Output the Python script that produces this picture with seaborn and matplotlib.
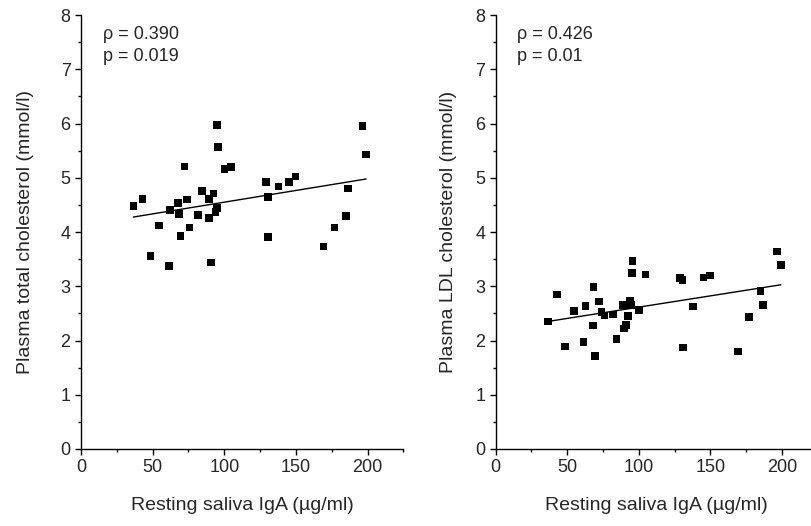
import matplotlib
matplotlib.use("Agg")
import matplotlib.pyplot as plt
import pandas as pd
import seaborn as sns
from matplotlib.ticker import MultipleLocator

# 左图：唾液 IgA 与总胆固醇
iga_total = [36.5, 42.8, 48.4, 54.5, 61.2, 62.3, 67.7, 68.4, 69.3, 72.1, 73.8, 75.6,
             81.7, 84.5, 89.4, 89.4, 90.8, 92.4, 93.8, 94.7, 94.9, 95.4, 100.0, 104.5,
             128.9, 130.3, 130.5, 137.7, 145.0, 149.6, 169.1, 176.8, 184.8, 186.4, 196.4, 199.0]
total_chol = [4.48, 4.61, 3.56, 4.12, 3.37, 4.41, 4.54, 4.33, 3.93, 5.21, 4.60, 4.08,
              4.31, 4.76, 4.61, 4.26, 3.44, 4.71, 4.37, 4.44, 5.97, 5.57, 5.16, 5.20,
              4.92, 4.65, 3.91, 4.84, 4.92, 5.02, 3.73, 4.08, 4.29, 4.80, 5.95, 5.43]

# 右图：唾液 IgA 与 LDL 胆固醇
iga_ldl = [36.8, 43.0, 48.6, 54.9, 61.5, 62.9, 68.4, 68.2, 69.6, 72.1, 74.0, 76.1,
           81.9, 84.5, 89.6, 91.0, 92.6, 89.0, 93.7, 94.6, 95.6, 95.1, 100.2, 104.7,
           128.8, 130.5, 130.7, 137.9, 145.2, 149.6, 169.1, 177.0, 184.9, 186.5, 196.3, 199.1]
ldl_chol = [2.35, 2.85, 1.89, 2.54, 1.97, 2.64, 2.99, 2.28, 1.71, 2.72, 2.53, 2.46,
            2.48, 2.03, 2.22, 2.29, 2.45, 2.65, 2.74, 2.66, 3.47, 3.25, 2.56, 3.22,
            3.15, 3.12, 1.87, 2.63, 3.16, 3.20, 1.80, 2.43, 2.91, 2.66, 3.64, 3.39]

stats_total = ["\u03c1 = 0.390", "p = 0.019"]
stats_ldl = ["\u03c1 = 0.426", "p = 0.01"]

x_label = "Resting saliva IgA (\u00b5g/ml)"
y_labels = ["Plasma total cholesterol (mmol/l)", "Plasma LDL cholesterol (mmol/l)"]

df_total = pd.DataFrame({"iga": iga_total, "chol": total_chol})
df_ldl = pd.DataFrame({"iga": iga_ldl, "chol": ldl_chol})

sns.set_style("ticks")
plt.rcParams["font.family"] = ["Liberation Sans", "DejaVu Sans"]
plt.rcParams["axes.linewidth"] = 1.0

fig = plt.figure(figsize=(8.12, 5.26), dpi=100)
ax1 = fig.add_axes([0.0998, 0.1464, 0.397, 0.825])
ax2 = fig.add_axes([0.6103, 0.1464, 0.397, 0.825])

panels = [(ax1, df_total, stats_total, y_labels[0], 19),
          (ax2, df_ldl, stats_ldl, y_labels[1], 13)]

for ax, df, stats, ylab, pad in panels:
    # 回归直线
    sns.regplot(data=df, x="iga", y="chol", ax=ax, ci=None, scatter=False,
                line_kws={"color": "black", "linewidth": 1.0})
    # 散点
    sns.scatterplot(data=df, x="iga", y="chol", ax=ax, marker="s", s=30,
                    color="black", edgecolor="none", zorder=3)

    ax.set_xlim(0, 225)
    ax.set_ylim(0, 8)
    ax.xaxis.set_major_locator(MultipleLocator(50))
    ax.xaxis.set_minor_locator(MultipleLocator(25))
    ax.yaxis.set_major_locator(MultipleLocator(1))
    ax.yaxis.set_minor_locator(MultipleLocator(0.5))
    ax.tick_params(which="major", length=4, width=1, labelsize=13, color="black")
    ax.tick_params(which="minor", length=2, width=1, color="black")

    sns.despine(ax=ax)
    for sp in ["left", "bottom"]:
        ax.spines[sp].set_color("black")

    ax.set_xlabel(x_label, fontsize=14, labelpad=14.5)
    ax.set_ylabel(ylab, fontsize=14, labelpad=pad)

    ax.text(15, 7.65, stats[0], fontsize=13, va="center", ha="left")
    ax.text(15, 7.23, stats[1], fontsize=13, va="center", ha="left")

fig.savefig("out.png", dpi=100)
